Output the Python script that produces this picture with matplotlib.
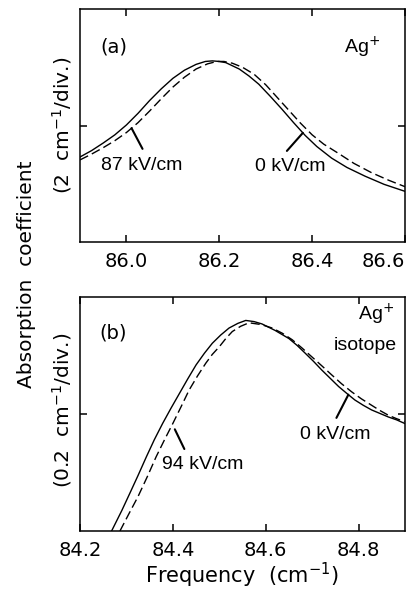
import numpy as np
import matplotlib
matplotlib.use("Agg")
import matplotlib.pyplot as plt

# panel (a): Ag+ line, 0 kV/cm (solid) and 87 kV/cm (dashed)
freq_a_0 = [85.900, 85.925, 85.950, 85.975, 86.000, 86.025, 86.050, 86.075, 86.100,
            86.125, 86.150, 86.170, 86.185, 86.200, 86.214, 86.243, 86.264, 86.285,
            86.310, 86.335, 86.360, 86.385, 86.410, 86.442, 86.475, 86.514, 86.555,
            86.600]
abs_a_0 = [1.46, 1.57, 1.70, 1.84, 2.01, 2.21, 2.43, 2.63, 2.81,
           2.95, 3.05, 3.10, 3.11, 3.10, 3.08, 2.97, 2.85, 2.71,
           2.50, 2.28, 2.05, 1.83, 1.64, 1.44, 1.28, 1.13, 0.99,
           0.87]

freq_a_87 = [85.900, 85.925, 85.950, 85.975, 86.000, 86.025, 86.050, 86.075, 86.100,
             86.125, 86.150, 86.175, 86.195, 86.210, 86.228, 86.250, 86.275, 86.300,
             86.325, 86.350, 86.375, 86.400, 86.425, 86.457, 86.490, 86.528, 86.565,
             86.600]
abs_a_87 = [1.41, 1.51, 1.62, 1.74, 1.88, 2.05, 2.25, 2.46, 2.66,
            2.83, 2.97, 3.06, 3.10, 3.10, 3.07, 3.00, 2.88, 2.70,
            2.48, 2.26, 2.04, 1.84, 1.68, 1.52, 1.35, 1.19, 1.06,
            0.95]

# panel (b): Ag+ isotope line, 0 kV/cm (solid) and 94 kV/cm (dashed)
freq_b_0 = [84.268, 84.290, 84.307, 84.325, 84.343, 84.360, 84.378, 84.396, 84.414,
            84.432, 84.450, 84.468, 84.485, 84.503, 84.521, 84.540, 84.557, 84.575,
            84.592, 84.620, 84.650, 84.668, 84.685, 84.703, 84.721, 84.739, 84.757,
            84.775, 84.792, 84.810, 84.828, 84.846, 84.864, 84.882, 84.899]
abs_b_0 = [0.000, 0.035, 0.064, 0.095, 0.127, 0.156, 0.184, 0.210, 0.235,
           0.260, 0.284, 0.304, 0.321, 0.335, 0.347, 0.355, 0.360, 0.358,
           0.354, 0.343, 0.329, 0.317, 0.304, 0.290, 0.275, 0.261, 0.247,
           0.235, 0.224, 0.215, 0.207, 0.201, 0.195, 0.190, 0.184]

freq_b_94 = [84.286, 84.305, 84.325, 84.345, 84.364, 84.382, 84.400, 84.418, 84.435,
             84.453, 84.471, 84.485, 84.500, 84.514, 84.528, 84.546, 84.564, 84.590,
             84.614, 84.636, 84.657, 84.678, 84.699, 84.720, 84.742, 84.763, 84.785,
             84.806, 84.828, 84.846, 84.864, 84.882, 84.899]
abs_b_94 = [0.000, 0.029, 0.059, 0.093, 0.127, 0.156, 0.184, 0.213, 0.241,
            0.265, 0.287, 0.302, 0.315, 0.329, 0.341, 0.350, 0.356, 0.353,
            0.347, 0.338, 0.327, 0.313, 0.298, 0.283, 0.267, 0.252, 0.238,
            0.226, 0.215, 0.206, 0.198, 0.192, 0.187]

xticks_a = [86.0, 86.2, 86.4, 86.6]
xticks_b = [84.2, 84.4, 84.6, 84.8]

LAB_FONT = "Liberation Sans"

plt.rcParams["font.family"] = ["DejaVu Sans"]
fig = plt.figure(figsize=(4.07, 5.91), dpi=100)
ax_a = fig.add_axes([0.1966, 0.5905, 0.7985, 0.3942])
ax_b = fig.add_axes([0.1966, 0.1015, 0.7985, 0.3959])


def style(ax, xlim, ylim, xticks, ytick):
    ax.set_xlim(*xlim)
    ax.set_ylim(*ylim)
    ax.set_xticks(xticks, [f"{t:.1f}" for t in xticks])
    ax.set_yticks([ytick], [""])
    ax.tick_params(direction="in", length=5, width=1.1, top=True, right=True,
                   labelsize=14, pad=7)
    for sp in ax.spines.values():
        sp.set_linewidth(1.1)


def leader(ax, x, xs, ys, end, text_off, label, gap=0):
    y = np.interp(x, xs, ys)
    ax.annotate("", xy=(x, y), xytext=end, textcoords="offset points",
                arrowprops=dict(arrowstyle="-", lw=1.5, color="k",
                                shrinkA=0, shrinkB=gap))
    ax.annotate(label, xy=(x, y), xytext=text_off, textcoords="offset points",
                ha="center", va="center", fontsize=14, family=LAB_FONT)


# (a)
ax_a.plot(freq_a_0, abs_a_0, color="k", lw=1.0)
ax_a.plot(freq_a_87, abs_a_87, color="k", lw=1.0, dashes=(6.5, 3))
style(ax_a, (85.9, 86.6), (0, 4), xticks_a, 2)
ax_a.get_xticklabels()[-1].set_horizontalalignment("right")
ax_a.text(0.103, 0.835, "(a)", transform=ax_a.transAxes, ha="center",
          va="center", fontsize=14)
ax_a.text(0.812, 0.811, "Ag$^{+}$", transform=ax_a.transAxes, ha="left",
          va="baseline", fontsize=14, family=LAB_FONT)
leader(ax_a, 86.011, freq_a_87, abs_a_87, (7.9, -14.9), (7.4, -26.6), "87 kV/cm")
leader(ax_a, 86.380, freq_a_0, abs_a_0, (-11.5, -13), (-9.4, -24.5), "0 kV/cm")

# (b)
ax_b.plot(freq_b_0, abs_b_0, color="k", lw=1.0)
ax_b.plot(freq_b_94, abs_b_94, color="k", lw=1.0, dashes=(6.5, 3))
style(ax_b, (84.2, 84.9), (0, 0.4), xticks_b, 0.2)
ax_b.text(0.102, 0.846, "(b)", transform=ax_b.transAxes, ha="center",
          va="center", fontsize=14)
ax_b.text(0.855, 0.902, "Ag$^{+}$", transform=ax_b.transAxes, ha="left",
          va="baseline", fontsize=14, family=LAB_FONT)
ax_b.text(0.975, 0.774, "isotope", transform=ax_b.transAxes, ha="right",
          va="baseline", fontsize=14, family=LAB_FONT)
leader(ax_b, 84.399, freq_b_94, abs_b_94, (8.6, -17.8), (21.6, -28.6), "94 kV/cm", gap=4)
leader(ax_b, 84.778, freq_b_0, abs_b_0, (-8.6, -16.7), (-9.4, -28.9), "0 kV/cm")

# axis labels
fig.text(0.066, 0.536, "Absorption  coefficient", rotation=90, ha="center",
         va="center", fontsize=14.5)
fig.text(0.152, 0.788, "(2  cm$^{-1}$/div.)", rotation=90, ha="center",
         va="center", fontsize=14.5)
fig.text(0.152, 0.305, "(0.2  cm$^{-1}$/div.)", rotation=90, ha="center",
         va="center", fontsize=14.5)
fig.text(0.595, 0.027, "Frequency  (cm$^{-1}$)", ha="center", va="center",
         fontsize=15)

fig.savefig("out.png", dpi=100)
